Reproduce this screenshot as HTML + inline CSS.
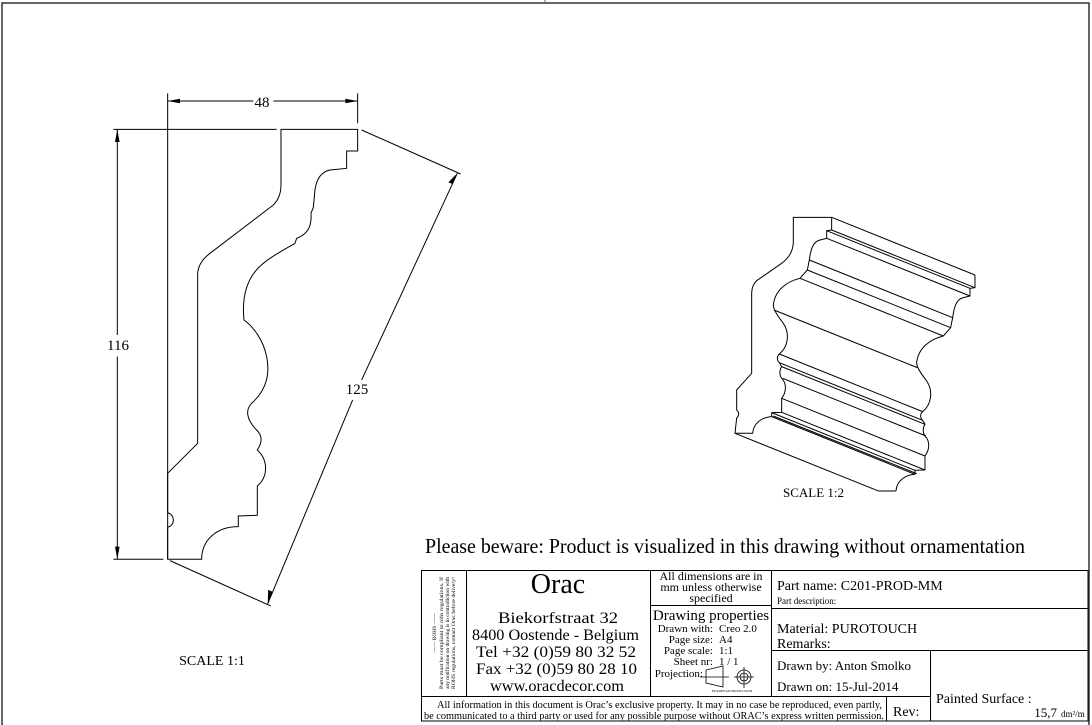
<!DOCTYPE html>
<html><head><meta charset="utf-8"><style>
html,body{margin:0;padding:0;background:#fff}
svg{display:block}
text{font-family:"Liberation Serif",serif;fill:#000}
</style></head><body>
<svg width="1092" height="725" viewBox="0 0 1092 725" xmlns="http://www.w3.org/2000/svg">
<rect x="2" y="3" width="1087" height="730" fill="none" stroke="#333" stroke-width="1.5"/>
<line x1="545" y1="0" x2="545" y2="3" stroke="#666"/>

<!-- Left profile -->
<g transform="translate(100,90) scale(0.3333)" fill="none" stroke="#000" stroke-width="3">
<path d="M203,1408 L305,1408 C305,1350 350,1310 415,1310 L415,1278 L472,1276 L472,1188 C505,1160 505,1110 472,1080 C485,1060 490,1040 470,1020 C440,990 435,960 455,940 C500,900 510,850 500,800 C490,750 460,710 432,690 C425,620 440,560 490,520 C520,495 560,475 585,460 L590,445 C630,430 635,400 633,370 L640,352 L645,300 C650,265 665,245 690,240 L740,235 L740,183 L773,183 L773,118 L543,118 L543,285 C543,310 535,330 520,345 L330,490 C310,505 295,525 293,550 L293,1060 L203,1150 L203,1268 C215,1272 220,1282 220,1290 C220,1300 215,1308 203,1312 L203,1408 Z"/>
<line x1="203" y1="10" x2="203" y2="1408"/>
<line x1="773" y1="10" x2="773" y2="100"/>
<line x1="203" y1="33" x2="460" y2="33"/>
<line x1="520" y1="33" x2="773" y2="33"/>
<line x1="40" y1="118" x2="530" y2="118"/>
<line x1="40" y1="1408" x2="190" y2="1408"/>
<line x1="52" y1="118" x2="52" y2="735"/>
<line x1="52" y1="800" x2="52" y2="1408"/>
<line x1="785" y1="120" x2="1082" y2="252"/>
<line x1="210" y1="1412" x2="512" y2="1548"/>
<line x1="1072" y1="250" x2="785" y2="870"/>
<line x1="758" y1="930" x2="503" y2="1542"/>
</g>
<g fill="#000">
<polygon points="167.7,101 180,98.7 180,103.3"/>
<polygon points="357.7,101 345.4,98.7 345.4,103.3"/>
<polygon points="117.3,129.3 115,142 119.6,142"/>
<polygon points="117.3,559.3 115,546.6 119.6,546.6"/>
<polygon points="457.3,173.3 448.4,182.3 452.6,184.1"/>
<polygon points="267.7,603.3 272.4,591.7 268.2,589.9"/>
</g>
<text x="262" y="107" font-size="15" text-anchor="middle">48</text>
<text x="118" y="350" font-size="15" text-anchor="middle">116</text>
<text x="357" y="394" font-size="15" text-anchor="middle">125</text>
<text x="212" y="665" font-size="14" text-anchor="middle">SCALE  1:1</text>

<!-- Iso view -->
<g transform="translate(720,210) scale(0.3333)" fill="none" stroke="#000" stroke-width="3" stroke-linejoin="round">
<path d="M45,670 L98,670 C100,640 125,622 155,620 L155,608 L185,607 L185,565 C200,545 200,520 185,505 C178,495 178,480 185,470 L178,458 C170,450 170,440 178,432 C205,410 210,370 190,340 C175,320 160,300 160,285 C165,240 200,215 240,205 L262,180 L268,150 C272,120 278,95 300,90 L320,85 L320,62 L335,60 L335,22 L220,22 L220,95 C220,125 205,145 185,160 L110,212 C100,222 95,235 95,250 L95,490 L50,540 L50,600 C58,607 58,617 50,624 L45,670 Z"/>
<g transform="translate(430,173)">
<path d="M98,670 C100,640 125,622 155,620 L155,608 L185,607 L185,565 C200,545 200,520 185,505 C178,495 178,480 185,470 L178,458 C170,450 170,440 178,432 C205,410 210,370 190,340 C175,320 160,300 160,285 C165,240 200,215 240,205 L262,180 L268,150 C272,120 278,95 300,90 L320,85 L320,62 L335,60 L335,22"/>
</g>
<line x1="335" y1="22" x2="765" y2="195"/>
<line x1="335" y1="60" x2="765" y2="233"/>
<line x1="320" y1="62" x2="750" y2="235"/>
<line x1="320" y1="85" x2="750" y2="258"/>
<line x1="268" y1="150" x2="698" y2="323"/>
<line x1="262" y1="180" x2="692" y2="353"/>
<line x1="240" y1="205" x2="670" y2="378"/>
<line x1="162" y1="300" x2="592" y2="473"/>
<line x1="178" y1="432" x2="608" y2="605"/>
<line x1="178" y1="458" x2="608" y2="631"/>
<line x1="185" y1="470" x2="615" y2="643"/>
<line x1="188" y1="505" x2="618" y2="678"/>
<line x1="185" y1="565" x2="615" y2="738"/>
<line x1="185" y1="607" x2="615" y2="780"/>
<line x1="155" y1="608" x2="585" y2="781"/>
<line x1="155" y1="620" x2="585" y2="793"/>
<line x1="160" y1="618" x2="590" y2="791"/>
<line x1="45" y1="670" x2="475" y2="843"/>
<line x1="475" y1="843" x2="528" y2="843"/>
</g>
<text x="783" y="497" font-size="13">SCALE  1:2</text>

<text x="425" y="553" font-size="21.5" textLength="600" lengthAdjust="spacingAndGlyphs">Please beware: Product is visualized in this drawing without ornamentation</text>

<!-- Title block -->
<g fill="none" stroke="#000" stroke-width="1">
<rect x="421.5" y="570.5" width="666.5" height="150.5"/>
<line x1="466.5" y1="570" x2="466.5" y2="696"/>
<line x1="650.5" y1="570" x2="650.5" y2="696"/>
<line x1="771.5" y1="570" x2="771.5" y2="696"/>
<line x1="650" y1="605.5" x2="771" y2="605.5"/>
<line x1="771" y1="608.5" x2="1088" y2="608.5"/>
<line x1="771" y1="650.5" x2="1088" y2="650.5"/>
<line x1="930.5" y1="650" x2="930.5" y2="721"/>
<line x1="421" y1="696.5" x2="930" y2="696.5"/>
<line x1="886.5" y1="696" x2="886.5" y2="721"/>
</g>
<g transform="translate(444,633) rotate(-90)" font-size="5.5">
<text x="0" y="-8" text-anchor="middle">—— ROHS ——</text>
<text x="0" y="-1" text-anchor="middle" textLength="112" lengthAdjust="spacingAndGlyphs">Parts must be compliant to rohs regulations. If</text>
<text x="0" y="5" text-anchor="middle" textLength="112" lengthAdjust="spacingAndGlyphs">any notification on drawing is in contradiction with</text>
<text x="0" y="11" text-anchor="middle" textLength="112" lengthAdjust="spacingAndGlyphs">ROHS regulations, contact Orac before delivery!</text>
</g>
<text x="558" y="593" font-size="28" text-anchor="middle">Orac</text>
<g font-size="16">
<text x="498" y="623" textLength="120" lengthAdjust="spacingAndGlyphs">Biekorfstraat 32</text>
<text x="472" y="640" textLength="167" lengthAdjust="spacingAndGlyphs">8400 Oostende - Belgium</text>
<text x="476" y="657" textLength="160" lengthAdjust="spacingAndGlyphs">Tel   +32 (0)59 80 32 52</text>
<text x="476" y="674" textLength="161" lengthAdjust="spacingAndGlyphs">Fax   +32 (0)59 80 28 10</text>
<text x="490" y="691" textLength="134" lengthAdjust="spacingAndGlyphs">www.oracdecor.com</text>
</g>
<g font-size="12" text-anchor="middle">
<text x="711" y="580">All dimensions are in</text>
<text x="711" y="591">mm unless otherwise</text>
<text x="711" y="602">specified</text>
</g>
<text x="711" y="620" font-size="15" text-anchor="middle">Drawing properties</text>
<g font-size="11">
<text x="713" y="632" text-anchor="end">Drawn with:</text><text x="719" y="632">Creo 2.0</text>
<text x="713" y="643" text-anchor="end">Page size:</text><text x="719" y="643">A4</text>
<text x="713" y="654" text-anchor="end">Page scale:</text><text x="719" y="654">1:1</text>
<text x="713" y="665" text-anchor="end">Sheet nr:</text><text x="719" y="665">1 / 1</text>
<text x="703" y="677" text-anchor="end">Projection:</text>
</g>
<g fill="none" stroke="#000" stroke-width="0.8">
<polygon points="706,670 723,666 723,687 706,683"/>
<line x1="700" y1="677" x2="729" y2="677"/>
<circle cx="744" cy="677" r="7"/><circle cx="744" cy="677" r="4"/>
<line x1="734" y1="677" x2="754" y2="677"/><line x1="744" y1="667" x2="744" y2="688"/>
</g>
<text x="732" y="692" font-size="3.5" text-anchor="middle">EUROPEAN PROJECTION</text>
<text x="777" y="590" font-size="14">Part name:  C201-PROD-MM</text>
<text x="777" y="604" font-size="9">Part description:</text>
<text x="777" y="633" font-size="14">Material:   PUROTOUCH</text>
<text x="777" y="648" font-size="14">Remarks:</text>
<text x="777" y="670" font-size="13">Drawn by:  Anton Smolko</text>
<text x="777" y="691" font-size="13">Drawn on:  15-Jul-2014</text>
<g font-size="10.3">
<text x="437" y="708" textLength="445" lengthAdjust="spacingAndGlyphs">All information in this document is Orac’s exclusive property.  It may in no case be reproduced, even partly,</text>
<text x="424" y="719" textLength="460" lengthAdjust="spacingAndGlyphs">be communicated to a third party or used for any possible purpose without ORAC’s express written permission.</text>
</g>
<text x="893" y="716" font-size="14">Rev:</text>
<text x="936" y="703" font-size="14">Painted Surface :</text>
<text x="1057" y="717" font-size="13" text-anchor="end">15,7</text>
<text x="1061" y="717" font-size="9">dm²/m</text>
</svg>
</body></html>
